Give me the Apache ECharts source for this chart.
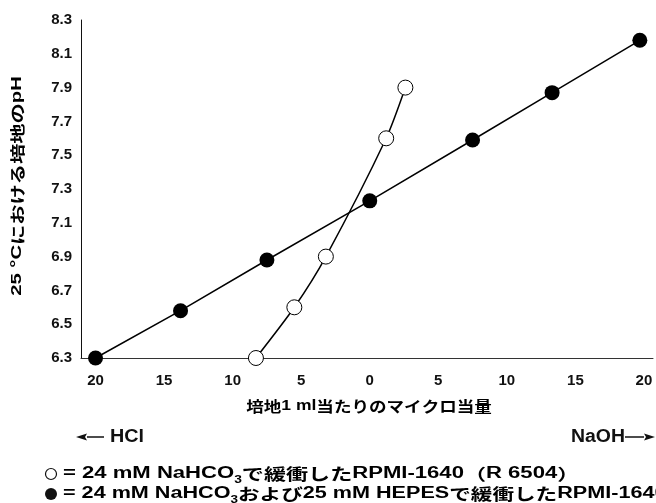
<!DOCTYPE html>
<html>
<head>
<meta charset="utf-8">
<script src="https://cdn.jsdelivr.net/npm/echarts@6/dist/echarts.min.js"></script>
<style>
  html, body { margin: 0; padding: 0; background: #fff; }
  #chart { width: 656px; height: 503px; }
</style>
</head>
<body>
<div id="chart"></div>
<script>
// Titration: micro-equivalents of acid (negative) or base (positive) per ml of medium
const doseTicks = [-20, -15, -10, -5, 0, 5, 10, 15, 20];
const phTicks = [6.3, 6.5, 6.7, 6.9, 7.1, 7.3, 7.5, 7.7, 7.9, 8.1, 8.3];

// RPMI-1640 buffered with 24 mM NaHCO3 only (open circles)
const bicarbDose = [-8.3, -5.5, -3.2, 1.2, 2.6];
const bicarbPH = [6.3, 6.6, 6.9, 7.6, 7.9];

// RPMI-1640 buffered with 24 mM NaHCO3 + 25 mM HEPES (filled circles)
const hepesDose = [-20, -13.8, -7.5, 0, 7.5, 13.3, 19.7];
const hepesPH = [6.3, 6.58, 6.88, 7.23, 7.59, 7.87, 8.18];

const LATIN = "'Liberation Sans', 'Noto Sans CJK JP', sans-serif";
const JP = "'Noto Sans CJK JP', 'Liberation Sans', sans-serif";
const INK = '#111';

const pairs = (xs, ys) => xs.map((x, i) => [x, ys[i]]);

const chart = echarts.init(document.getElementById('chart'), null, { renderer: 'canvas' });

// mixed Latin / Japanese runs for the wide gothic captions
const wideRich = (size) => ({
  a: { fontFamily: LATIN, fontWeight: 'bold', fontSize: size, color: INK },
  j: { fontFamily: JP, fontWeight: 'bold', fontSize: size, color: INK },
  s: { fontFamily: LATIN, fontWeight: 'bold', fontSize: Math.round(size * 0.62), color: INK,
       verticalAlign: 'bottom', padding: [0, 0, -3, 0] }
});

// arrow built from a shaft and a filled head; dir = -1 points left, +1 points right
function arrow(tipX, y, len, dir) {
  const head = 11, half = 3.5;
  const baseX = tipX - dir * head;
  return {
    type: 'group',
    children: [
      { type: 'line', shape: { x1: baseX, y1: y, x2: tipX - dir * len, y2: y },
        style: { stroke: INK, lineWidth: 1.5 } },
      { type: 'polygon', shape: { points: [[tipX, y], [baseX, y - half], [baseX + dir * 2, y], [baseX, y + half]] },
        style: { fill: INK } }
    ]
  };
}

chart.setOption({
  animation: false,
  backgroundColor: '#fff',
  grid: { left: 81, right: 3, top: 20, bottom: 145 },
  xAxis: {
    type: 'value',
    min: -21.06,
    max: 20.66,
    splitLine: { show: false },
    axisTick: { show: false },
    axisLine: { onZero: false, lineStyle: { color: '#333', width: 1 } },
    axisLabel: {
      customValues: doseTicks,
      margin: 15,
      fontFamily: LATIN, fontWeight: 'bold', fontSize: 15, color: INK,
      formatter: v => String(Math.abs(Math.round(v)))
    }
  },
  yAxis: {
    type: 'value',
    min: 6.3,
    max: 8.3,
    splitLine: { show: false },
    axisTick: { show: false },
    axisLine: { show: true, onZero: false, lineStyle: { color: INK, width: 1 } },
    axisLabel: {
      customValues: phTicks,
      margin: 9,
      fontFamily: LATIN, fontWeight: 'bold', fontSize: 15, color: INK,
      formatter: v => v.toFixed(1)
    }
  },
  series: [
    {
      name: 'HEPES',
      type: 'line',
      data: pairs(hepesDose, hepesPH),
      clip: false,
      symbol: 'circle',
      symbolSize: 15,
      lineStyle: { color: '#000', width: 1.5 },
      itemStyle: { color: '#000', borderColor: '#000', borderWidth: 0 },
      z: 2
    },
    {
      name: 'NaHCO3',
      type: 'line',
      data: pairs(bicarbDose, bicarbPH),
      clip: false,
      smooth: 0.25,
      symbol: 'circle',
      symbolSize: 15,
      showAllSymbol: true,
      lineStyle: { color: '#000', width: 1.5 },
      itemStyle: { color: '#fff', borderColor: '#000', borderWidth: 1 },
      z: 3
    }
  ],
  graphic: [
    // y-axis title, rotated and stretched along its run
    {
      type: 'text', x: 17, y: 186, rotation: Math.PI / 2, scaleX: 1.35,
      style: {
        text: '{a|25 °C}{j|における培地の}{a|pH}',
        rich: wideRich(15), align: 'center', verticalAlign: 'middle'
      }
    },
    // x-axis title
    {
      type: 'text', x: 369, y: 406, scaleX: 1.17,
      style: {
        text: '{j|培地}{a|1 ml}{j|当たりのマイクロ当量}',
        rich: wideRich(15), align: 'center', verticalAlign: 'middle'
      }
    },
    arrow(76, 437, 28, -1),
    {
      type: 'text', x: 110, y: 437, scaleX: 1.1,
      style: { text: 'HCl', fontFamily: LATIN, fontWeight: 'bold', fontSize: 18, fill: INK, verticalAlign: 'middle' }
    },
    {
      type: 'text', x: 571, y: 437, scaleX: 1.08,
      style: { text: 'NaOH', fontFamily: LATIN, fontWeight: 'bold', fontSize: 18, fill: INK, verticalAlign: 'middle' }
    },
    arrow(655, 437, 30, 1),
    // series key
    {
      type: 'circle', shape: { cx: 51, cy: 474, r: 5.5 },
      style: { fill: '#fff', stroke: INK, lineWidth: 1.2 }
    },
    {
      type: 'text', x: 63, y: 474, scaleX: 1.38,
      style: {
        text: '{a|= 24 mM NaHCO}{s|3}{j|で緩衝した}{a|RPMI-1640}{j|（}{a|R 6504}{j|）}',
        rich: wideRich(16), verticalAlign: 'middle'
      }
    },
    {
      type: 'circle', shape: { cx: 51, cy: 494, r: 6 },
      style: { fill: INK }
    },
    {
      type: 'text', x: 63, y: 494, scaleX: 1.35,
      style: {
        text: '{a|= 24 mM NaHCO}{s|3}{j|および}{a|25 mM HEPES}{j|で緩衝した}{a|RPMI-1640}',
        rich: wideRich(16), verticalAlign: 'middle'
      }
    }
  ]
});
</script>
</body>
</html>
